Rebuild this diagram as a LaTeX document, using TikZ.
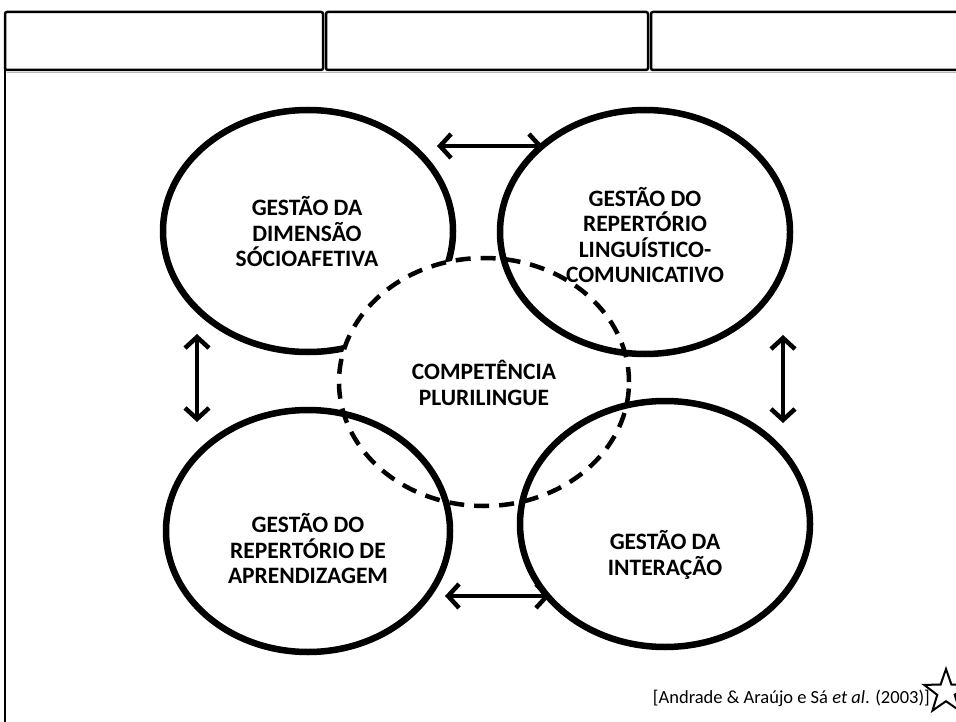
\documentclass[tikz,border=0pt]{standalone}
\usepackage{fontspec}
\setmainfont{Carlito}
\usetikzlibrary{shapes.geometric,arrows.meta}
\begin{document}
\begin{tikzpicture}[x=1pt,y=-1pt,
  ring/.style={draw, line width=6.5pt, ellipse, inner sep=0pt, outer sep=0pt},
  core/.style={draw, line width=4.5pt, dash pattern=on 15pt off 10pt, ellipse, fill=white, inner sep=0pt},
  caption/.style={font=\bfseries\fontsize{23.5}{25.5}\selectfont, align=center, inner sep=0pt},
  link/.style={line width=4.5pt, {Straight Barb[length=11pt,width=24pt]}-{Straight Barb[length=11pt,width=24pt]}},
  headbox/.style={draw, line width=2.5pt, rounded corners=2pt}
]
\useasboundingbox (0,0) rectangle (956,722);

% header strip and frame
\draw[gray!55, line width=1.5pt] (7,72.5) -- (956,72.5);
\draw[headbox] (5,12) rectangle (323,70);
\draw[headbox] (326,12) rectangle (648,70);
\draw[headbox] (651,12) rectangle (966,70);
\draw[line width=2.5pt] (5,69) -- (5,722);

% the four management areas and the central competence
\node[ring, fill=white, minimum width=290pt, minimum height=242pt] (socio) at (308,231) {};
\node[core, minimum width=290pt, minimum height=248pt] (comp) at (484,382) {};
\node[ring, minimum width=290pt, minimum height=244pt] (ling) at (645,232) {};
\node[ring, minimum width=284pt, minimum height=242pt] (aprend) at (308,531) {};
\node[ring, minimum width=290pt, minimum height=246pt] (inter) at (665,524) {};

\node[caption] (tsocio) at (307,232) {GESTÃO DA\\DIMENSÃO\\SÓCIOAFETIVA};
\node[caption] (tling) at (645,235) {GESTÃO DO\\REPERTÓRIO\\LINGUÍSTICO-\\COMUNICATIVO};
\node[caption] (tcomp) at (484,383) {COMPETÊNCIA\\PLURILINGUE};
\node[caption] (taprend) at (308,549) {GESTÃO DO\\REPERTÓRIO DE\\APRENDIZAGEM};
\node[caption] (tinter) at (665,555) {GESTÃO DA\\INTERAÇÃO};

% two-way links between neighbouring areas
\coordinate (topL) at (437,146);
\coordinate (topR) at (543,146);
\coordinate (botL) at (445,596);
\coordinate (botR) at (550,596);
\coordinate (lefT) at (197,334);
\coordinate (lefB) at (197,422);
\coordinate (rigT) at (783,335);
\coordinate (rigB) at (783,423);
\draw[link] (topL) -- (topR);
\draw[link] (botL) -- (botR);
\draw[link] (lefT) -- (lefB);
\draw[link] (rigT) -- (rigB);

% source
\node[font=\fontsize{18.5}{22}\selectfont, anchor=east, inner sep=0pt] (cite) at (930,698)
  {[Andrade \& Araújo e Sá \textit{et al}. (2003)]};
\node[star, star points=5, star point ratio=2.5, draw, line width=2pt, minimum size=46pt, inner sep=0pt] (mark) at (946,692) {};
\end{tikzpicture}
\end{document}
